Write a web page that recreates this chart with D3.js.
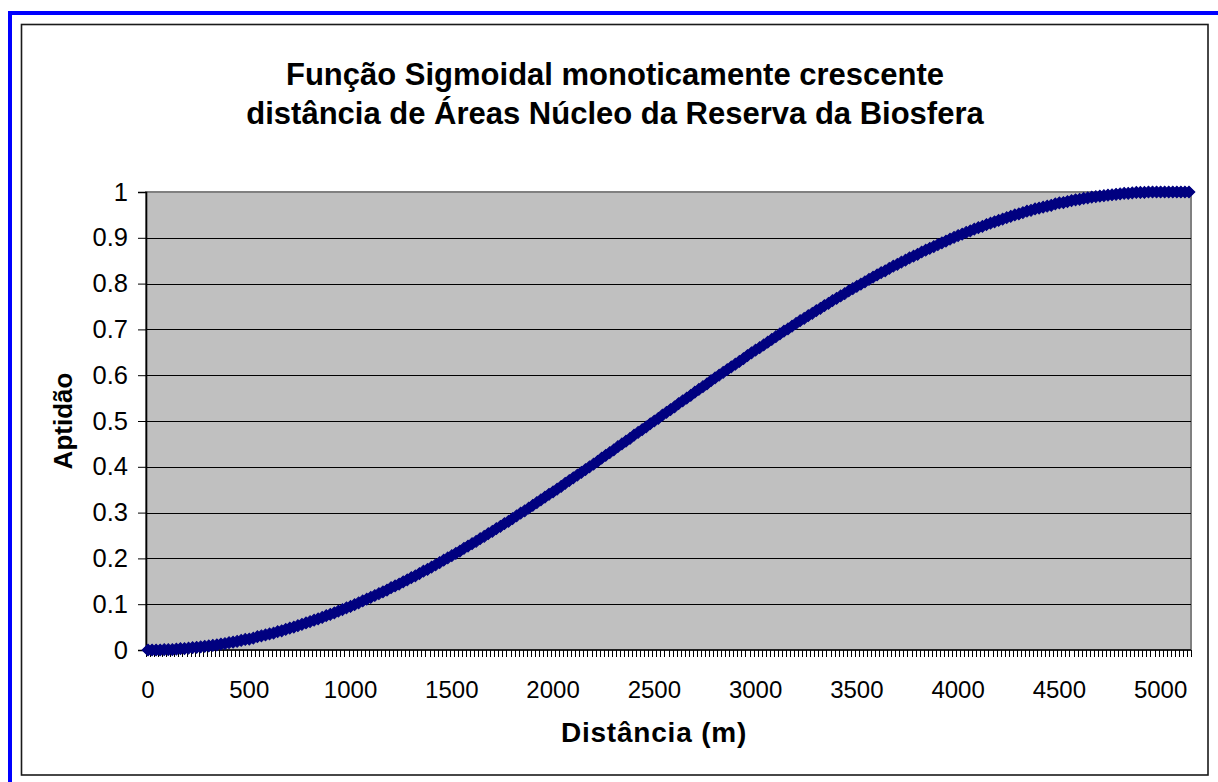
<!DOCTYPE html>
<html>
<head>
<meta charset="utf-8">
<script src="https://cdn.jsdelivr.net/npm/d3@7"></script>
<style>
  html, body { margin: 0; padding: 0; background: #ffffff; }
  svg { display: block; }
  text { font-family: Arial, "Liberation Sans", sans-serif; fill: #000; }
</style>
</head>
<body>
<svg id="chart" width="1218" height="782"></svg>
<script>
// Distance categories (m), one every 20 m
const distances = d3.range(0, 5160, 20);

// Suitability (aptidão) for each distance category
const aptidao = [
  0, 0, 0, 0, 0.001, 0.001, 0.001, 0.002, 0.003, 0.003,
  0.004, 0.005, 0.006, 0.007, 0.008, 0.009, 0.010, 0.011, 0.013, 0.014,
  0.016, 0.017, 0.019, 0.021, 0.023, 0.024, 0.026, 0.029, 0.031, 0.033,
  0.035, 0.037, 0.040, 0.042, 0.045, 0.048, 0.050, 0.053, 0.056, 0.059,
  0.062, 0.065, 0.068, 0.071, 0.075, 0.078, 0.081, 0.085, 0.088, 0.092,
  0.095, 0.099, 0.103, 0.107, 0.111, 0.115, 0.119, 0.123, 0.127, 0.131,
  0.136, 0.140, 0.144, 0.149, 0.153, 0.158, 0.162, 0.167, 0.172, 0.176,
  0.181, 0.186, 0.191, 0.196, 0.201, 0.206, 0.211, 0.216, 0.222, 0.227,
  0.232, 0.237, 0.243, 0.248, 0.254, 0.259, 0.265, 0.270, 0.276, 0.281,
  0.287, 0.293, 0.299, 0.304, 0.310, 0.316, 0.322, 0.328, 0.334, 0.340,
  0.345, 0.351, 0.357, 0.364, 0.370, 0.376, 0.382, 0.388, 0.394, 0.400,
  0.406, 0.412, 0.419, 0.425, 0.431, 0.437, 0.444, 0.450, 0.456, 0.462,
  0.469, 0.475, 0.481, 0.487, 0.494, 0.500, 0.506, 0.513, 0.519, 0.525,
  0.531, 0.538, 0.544, 0.550, 0.556, 0.563, 0.569, 0.575, 0.581, 0.588,
  0.594, 0.600, 0.606, 0.612, 0.618, 0.624, 0.630, 0.636, 0.643, 0.649,
  0.655, 0.660, 0.666, 0.672, 0.678, 0.684, 0.690, 0.696, 0.701, 0.707,
  0.713, 0.719, 0.724, 0.730, 0.735, 0.741, 0.746, 0.752, 0.757, 0.763,
  0.768, 0.773, 0.778, 0.784, 0.789, 0.794, 0.799, 0.804, 0.809, 0.814,
  0.819, 0.824, 0.828, 0.833, 0.838, 0.842, 0.847, 0.851, 0.856, 0.860,
  0.864, 0.869, 0.873, 0.877, 0.881, 0.885, 0.889, 0.893, 0.897, 0.901,
  0.905, 0.908, 0.912, 0.915, 0.919, 0.922, 0.925, 0.929, 0.932, 0.935,
  0.938, 0.941, 0.944, 0.947, 0.950, 0.952, 0.955, 0.958, 0.960, 0.963,
  0.965, 0.967, 0.969, 0.971, 0.974, 0.976, 0.977, 0.979, 0.981, 0.983,
  0.984, 0.986, 0.987, 0.989, 0.990, 0.991, 0.992, 0.993, 0.994, 0.995,
  0.996, 0.997, 0.997, 0.998, 0.999, 0.999, 0.999, 1, 1, 1,
  1, 1, 1, 1, 1, 1, 1, 1
];

// Labelled distances on the category axis
const xTickLabels = [0, 500, 1000, 1500, 2000, 2500, 3000, 3500, 4000, 4500, 5000];
// Value axis ticks
const yTicks = [0, 0.1, 0.2, 0.3, 0.4, 0.5, 0.6, 0.7, 0.8, 0.9, 1];

const titleLines = [
  "Função Sigmoidal monoticamente crescente",
  "distância de Áreas Núcleo da Reserva da Biosfera"
];
const xTitle = "Distância (m)";
const yTitle = "Aptidão";

const points = distances.map((d, i) => ({ dist: d, val: aptidao[i] }));

const svg = d3.select("#chart");

// Outer blue frame and chart-area border
svg.append("rect")
  .attr("x", 10).attr("y", 13)
  .attr("width", 1400).attr("height", 1000)
  .attr("fill", "none").attr("stroke", "#0000ff").attr("stroke-width", 4);

svg.append("rect")
  .attr("x", 21.5).attr("y", 24.5)
  .attr("width", 1186.5).attr("height", 750.5)
  .attr("fill", "#ffffff").attr("stroke", "#1a1a1a").attr("stroke-width", 1.6);

// Plot area
const plot = { left: 146, right: 1191, top: 192, bottom: 650 };

const x = d3.scaleBand()
  .domain(distances)
  .range([plot.left, plot.right])
  .padding(0);
const xc = d => x(d) + x.bandwidth() / 2;

const y = d3.scaleLinear()
  .domain([0, 1])
  .range([plot.bottom, plot.top]);

svg.append("rect")
  .attr("x", plot.left).attr("y", plot.top)
  .attr("width", plot.right - plot.left)
  .attr("height", plot.bottom - plot.top)
  .attr("fill", "#c0c0c0")
  .attr("stroke", "#808080").attr("stroke-width", 2);

// Horizontal gridlines
svg.append("g")
  .selectAll("line")
  .data(yTicks.filter(v => v > 0 && v < 1))
  .join("line")
  .attr("x1", plot.left).attr("x2", plot.right)
  .attr("y1", d => Math.round(y(d)) + 0.5)
  .attr("y2", d => Math.round(y(d)) + 0.5)
  .attr("stroke", "#000").attr("stroke-width", 1);

// Value axis
const yAxis = d3.axisLeft(y)
  .tickValues(yTicks)
  .tickSize(8)
  .tickPadding(10)
  .tickFormat(d => d3.format("")(+d.toFixed(1)));

const gy = svg.append("g")
  .attr("transform", `translate(${plot.left},0)`)
  .call(yAxis);
gy.select(".domain").attr("stroke", "#000").attr("stroke-width", 1.6);
gy.selectAll(".tick line").attr("stroke", "#000").attr("stroke-width", 1);
gy.selectAll(".tick text")
  .attr("font-size", 25.5)
  .attr("font-family", "Arial, 'Liberation Sans', sans-serif");

// Category axis: a tick at every category boundary
const boundaries = distances.map(d => x(d)).concat([plot.right]);
svg.append("line")
  .attr("x1", plot.left).attr("x2", plot.right)
  .attr("y1", plot.bottom).attr("y2", plot.bottom)
  .attr("stroke", "#000").attr("stroke-width", 1.6);

svg.append("g")
  .selectAll("line")
  .data(boundaries)
  .join("line")
  .attr("x1", d => Math.round(d) + 0.5).attr("x2", d => Math.round(d) + 0.5)
  .attr("y1", plot.bottom).attr("y2", plot.bottom + 7)
  .attr("stroke", "#000").attr("stroke-width", 1);

svg.append("g")
  .selectAll("text")
  .data(xTickLabels)
  .join("text")
  .attr("x", d => xc(d))
  .attr("y", 698)
  .attr("text-anchor", "middle")
  .attr("font-size", 24)
  .text(d => d);

// Series: line with diamond markers
const line = d3.line()
  .x(d => xc(d.dist))
  .y(d => y(d.val));

svg.append("path")
  .datum(points)
  .attr("d", line)
  .attr("fill", "none")
  .attr("stroke", "#000080")
  .attr("stroke-width", 3);

const diamond = d3.symbol().type(d3.symbolSquare).size(70);
svg.append("g")
  .selectAll("path")
  .data(points)
  .join("path")
  .attr("d", diamond)
  .attr("transform", d => `translate(${xc(d.dist)},${y(d.val)}) rotate(45)`)
  .attr("fill", "#000080")
  .attr("stroke", "#000080")
  .attr("stroke-width", 1);

// Titles
const title = svg.append("text")
  .attr("text-anchor", "middle")
  .attr("font-size", 31)
  .attr("font-weight", "bold");
title.selectAll("tspan")
  .data(titleLines)
  .join("tspan")
  .attr("x", 615)
  .attr("y", (d, i) => 85 + i * 39)
  .text(d => d);

svg.append("text")
  .attr("x", 654).attr("y", 742)
  .attr("text-anchor", "middle")
  .attr("font-size", 28)
  .attr("font-weight", "bold")
  .attr("letter-spacing", 0.8)
  .text(xTitle);

svg.append("text")
  .attr("transform", "translate(72,421) rotate(-90)")
  .attr("text-anchor", "middle")
  .attr("font-size", 26)
  .attr("font-weight", "bold")
  .text(yTitle);
</script>
</body>
</html>
